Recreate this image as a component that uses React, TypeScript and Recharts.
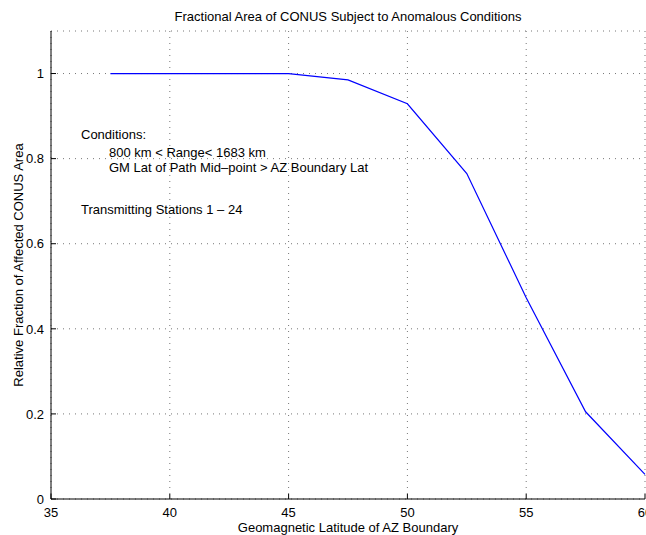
import { LineChart, Line, XAxis, YAxis, CartesianGrid } from "recharts";

// Geomagnetic latitude of AZ boundary (deg) vs. relative fraction of affected CONUS area
const latitudes = [37.5, 40, 42.5, 45, 47.5, 50, 52.5, 55, 57.5, 60];
const fractions = [1, 1, 1, 1, 0.985, 0.929, 0.765, 0.473, 0.205, 0.058];

const xTicks = [35, 40, 45, 50, 55, 60];
const yTicks = [0, 0.2, 0.4, 0.6, 0.8, 1];

const title = "Fractional Area of CONUS Subject to Anomalous Conditions";
const xLabel = "Geomagnetic Latitude of AZ Boundary";
const yLabel = "Relative Fraction of Affected CONUS Area";
const notes = [
  "Conditions:",
  "800 km < Range< 1683 km",
  "GM Lat of Path Mid\u2013point > AZ Boundary Lat",
  "Transmitting Stations 1 \u2013 24",
];

const data = latitudes.map((lat, i) => ({ lat, frac: fractions[i] }));

const FONT = "'Liberation Sans', Arial, Helvetica, sans-serif";
const TICK_LEN = 5;

// MATLAB-style ticks: short marks pointing into the plot box
function BottomTick(props: any) {
  const { x, y, payload } = props;
  return (
    <g>
      <line x1={x} y1={y} x2={x} y2={y - TICK_LEN} stroke="#000" />
      <text x={x} y={y + 17.5} textAnchor="middle" fontSize={13} fontFamily={FONT} fill="#000">
        {payload.value}
      </text>
    </g>
  );
}

function LeftTick(props: any) {
  const { x, y, payload } = props;
  return (
    <g>
      <line x1={x} y1={y} x2={x + TICK_LEN} y2={y} stroke="#000" />
      <text x={x - 7} y={y + 4.7} textAnchor="end" fontSize={13} fontFamily={FONT} fill="#000">
        {String(payload.value)}
      </text>
    </g>
  );
}

function TopTick(props: any) {
  const { x, y } = props;
  return <line x1={x} y1={y} x2={x} y2={y + TICK_LEN} stroke="#000" />;
}

function RightTick(props: any) {
  const { x, y } = props;
  return <line x1={x} y1={y} x2={x - TICK_LEN} y2={y} stroke="#000" />;
}

const txt = (extra: React.CSSProperties): React.CSSProperties => ({
  position: "absolute",
  whiteSpace: "nowrap",
  fontFamily: FONT,
  fontSize: 13,
  lineHeight: 1,
  color: "#000",
  ...extra,
});

export default function App() {
  return (
    <div style={{ position: "absolute", left: 0, top: 0, width: 646, height: 535, background: "#fff", overflow: "hidden" }}>
      <LineChart width={646} height={535} data={data} margin={{ top: 31, right: 1, bottom: 0, left: 0 }}>
        <CartesianGrid stroke="#777" strokeDasharray="1 5" />
        <XAxis
          dataKey="lat"
          type="number"
          domain={[35, 60]}
          ticks={xTicks}
          interval={0}
          height={36}
          stroke="#000"
          tickLine={false}
          tickSize={0}
          tickMargin={0}
          tick={BottomTick}
        />
        <XAxis
          xAxisId="top"
          orientation="top"
          dataKey="lat"
          type="number"
          domain={[35, 60]}
          ticks={xTicks}
          interval={0}
          height={0}
          stroke="#000"
          tickLine={false}
          tickSize={0}
          tickMargin={0}
          tick={TopTick}
        />
        <YAxis
          type="number"
          domain={[0, 1.1]}
          ticks={yTicks}
          interval={0}
          width={51}
          stroke="#000"
          tickLine={false}
          tickSize={0}
          tickMargin={0}
          tick={LeftTick}
        />
        <YAxis
          yAxisId="right"
          orientation="right"
          type="number"
          domain={[0, 1.1]}
          ticks={yTicks}
          interval={0}
          width={0}
          stroke="#000"
          tickLine={false}
          tickSize={0}
          tickMargin={0}
          tick={RightTick}
        />
        <Line
          type="linear"
          dataKey="frac"
          stroke="#0000ff"
          strokeWidth={1.2}
          dot={false}
          isAnimationActive={false}
        />
      </LineChart>

      <div style={txt({ left: 348, top: 16, transform: "translate(-50%, -50%)" })}>{title}</div>
      <div style={txt({ left: 348, top: 527, transform: "translate(-50%, -50%)" })}>{xLabel}</div>
      <div style={txt({ left: 18, top: 265, transform: "translate(-50%, -50%) rotate(-90deg)" })}>{yLabel}</div>

      <div style={txt({ left: 81, top: 134, transform: "translateY(-50%)" })}>{notes[0]}</div>
      <div style={txt({ left: 109, top: 151.5, transform: "translateY(-50%)" })}>{notes[1]}</div>
      <div style={txt({ left: 109, top: 166.5, transform: "translateY(-50%)" })}>{notes[2]}</div>
      <div style={txt({ left: 81, top: 209, transform: "translateY(-50%)" })}>{notes[3]}</div>
    </div>
  );
}
